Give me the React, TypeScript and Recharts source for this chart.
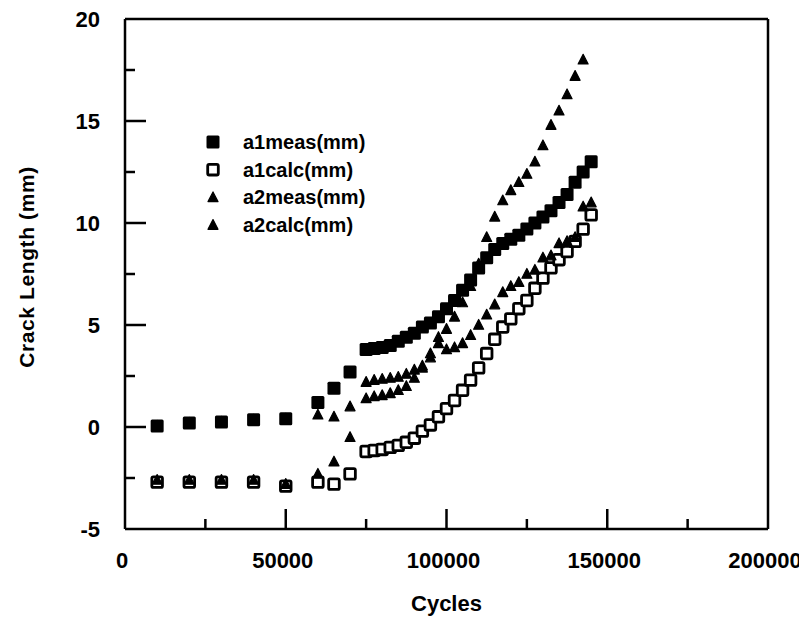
import React from 'react';
import { ScatterChart, Scatter, XAxis, YAxis, ReferenceLine, Legend } from 'recharts';

// ---- data ----
const earlyCycles = [10000, 20000, 30000, 40000, 50000, 60000, 65000, 70000];
const denseCycles = [
  75000, 77500, 80000, 82500, 85000, 87500, 90000, 92500, 95000, 97500,
  100000, 102500, 105000, 107500, 110000, 112500, 115000, 117500, 120000, 122500,
  125000, 127500, 130000, 132500, 135000, 137500, 140000, 142500, 145000,
];

const a1measValues = [
  0.05, 0.2, 0.25, 0.35, 0.4, 1.2, 1.9, 2.7,
  3.8, 3.85, 3.9, 4.0, 4.2, 4.4, 4.6, 4.9, 5.1, 5.4,
  5.8, 6.2, 6.7, 7.2, 7.8, 8.3, 8.7, 9.0, 9.2, 9.4,
  9.7, 10.0, 10.3, 10.6, 11.0, 11.4, 12.0, 12.5, 13.0,
];
const a1calcValues = [
  -2.7, -2.7, -2.7, -2.7, -2.9, -2.7, -2.8, -2.3,
  -1.2, -1.15, -1.1, -1.0, -0.9, -0.75, -0.55, -0.2, 0.1, 0.5,
  0.9, 1.3, 1.8, 2.3, 2.9, 3.6, 4.3, 4.9, 5.3, 5.8,
  6.2, 6.8, 7.3, 7.8, 8.2, 8.6, 9.1, 9.7, 10.4,
];
const a2measValues = [
  0.05, 0.2, 0.25, 0.35, 0.4, 0.6, 0.5, 1.0,
  1.4, 1.5, 1.55, 1.65, 1.8, 2.0, 2.4, 2.9, 3.4, 4.1,
  3.8, 3.9, 4.1, 4.5, 5.0, 5.5, 6.0, 6.6, 6.9, 7.1,
  7.5, 7.7, 8.3, 8.4, 9.0, 9.1, 9.3, 10.8, 11.0,
];
const a2calcValues = [
  -2.6, -2.6, -2.6, -2.6, -2.8, -2.3, -1.7, -0.5,
  2.2, 2.3, 2.35, 2.4, 2.45, 2.6, 2.8, 3.0, 3.6, 4.4,
  4.8, 5.4, 6.1, 6.9, 8.0, 9.3, 10.3, 11.1, 11.6, 12.0,
  12.4, 13.0, 13.8, 14.8, 15.5, 16.3, 17.2, 18.0,
];

const seriesNames = ['a1meas(mm)', 'a1calc(mm)', 'a2meas(mm)', 'a2calc(mm)'];

const xTicks = [0, 25000, 50000, 75000, 100000, 125000, 150000, 175000, 200000];
const xTickLabels = [0, 50000, 100000, 150000, 200000];
const yTicks = [-5, -2.5, 0, 2.5, 5, 7.5, 10, 12.5, 15, 17.5, 20];
const yTickLabels = [-5, 0, 5, 10, 15, 20];

const xTitle = 'Cycles';
const yTitle = 'Crack Length (mm)';

// ---- helpers ----
const allCycles = [...earlyCycles, ...denseCycles];
const toPoints = (values: number[]) => values.map((y, i) => ({ x: allCycles[i], y }));

const FONT = '"Liberation Sans", Arial, Helvetica, sans-serif';
const INK = '#000';

const FilledSquare = (p: any) => (
  <rect x={p.cx - 6.5} y={p.cy - 6.5} width={13} height={13} rx={1.5} fill={INK} />
);
const HollowSquare = (p: any) => (
  <rect x={p.cx - 5.3} y={p.cy - 5.3} width={10.6} height={10.6} rx={1.5} fill="#fff" stroke={INK} strokeWidth={2.8} />
);
const Triangle = (p: any) => (
  <path
    d={`M${p.cx},${p.cy - 5.5} L${p.cx + 5},${p.cy + 4.2} L${p.cx - 5},${p.cy + 4.2} Z`}
    fill={INK}
    stroke={INK}
    strokeWidth={1.2}
    strokeLinejoin="round"
  />
);

const shapes = [FilledSquare, HollowSquare, Triangle, Triangle];

const XTick = (props: any) => {
  const { x, y, payload } = props;
  const v = payload.value;
  const major = xTickLabels.includes(v);
  const edge = v === xTicks[0] || v === xTicks[xTicks.length - 1];
  return (
    <g>
      {!edge && (
        <line x1={x} x2={x} y1={y} y2={y - (major ? 20 : 10)} stroke={INK} strokeWidth={2.5} />
      )}
      {major && (
        <text x={x - 3} y={y + 39} textAnchor="middle" fontFamily={FONT} fontWeight={700} fontSize={22} fill={INK}>
          {String(v)}
        </text>
      )}
    </g>
  );
};

const YTick = (props: any) => {
  const { x, y, payload } = props;
  const v = payload.value;
  const major = yTickLabels.includes(v);
  const edge = v === yTicks[0] || v === yTicks[yTicks.length - 1];
  return (
    <g>
      {!edge && (
        <line x1={x} x2={x + (major ? 21 : 10)} y1={y} y2={y} stroke={INK} strokeWidth={2.5} />
      )}
      {major && (
        <text x={x - 25} y={y + 8} textAnchor="end" fontFamily={FONT} fontWeight={700} fontSize={22} fill={INK}>
          {String(v)}
        </text>
      )}
    </g>
  );
};

const renderYTitle = (props: any) => {
  const vb = props.viewBox || { x: 0, y: 11, width: 117, height: 510 };
  const cx = vb.x + 18;
  const cy = vb.y + vb.height / 2 - 7;
  return (
    <text
      x={cx}
      y={cy}
      transform={`rotate(-90, ${cx}, ${cy})`}
      textAnchor="middle"
      dominantBaseline="central"
      fontFamily={FONT}
      fontWeight={700}
      fontSize={21}
      letterSpacing={0.6}
      fill={INK}
    >
      {yTitle}
    </text>
  );
};

const renderXTitle = (props: any) => {
  const vb = props.viewBox || { x: 117, y: 521, width: 643, height: 90 };
  const cx = vb.x + vb.width / 2;
  return (
    <text x={cx} y={vb.y + 82} textAnchor="middle" fontFamily={FONT} fontWeight={700} fontSize={22} fill={INK}>
      {xTitle}
    </text>
  );
};

const renderLegend = () => (
  <svg width={200} height={120} style={{ display: 'block' }}>
    {seriesNames.map((name, i) => {
      const cy = 14 + i * 27.7;
      const Shape = shapes[i];
      return (
        <g key={name}>
          <Shape cx={10} cy={cy} />
          <text x={40} y={cy + 7} fontFamily={FONT} fontWeight={700} fontSize={20} fill={INK}>
            {name}
          </text>
        </g>
      );
    })}
  </svg>
);

const seriesValues = [a1measValues, a1calcValues, a2measValues, a2calcValues];

export default function App() {
  return (
    <ScatterChart
      width={799}
      height={611}
      margin={{ top: 11, right: 39, bottom: 0, left: 0 }}
      style={{ background: '#fff' }}
    >
      <XAxis
        dataKey="x"
        type="number"
        domain={[0, 200000]}
        ticks={xTicks}
        interval={0}
        tickSize={0}
        tickMargin={0}
        tickLine={false}
        axisLine={{ stroke: INK, strokeWidth: 2.5 }}
        tick={<XTick />}
        height={90}
        label={{ content: renderXTitle }}
      />
      <YAxis
        dataKey="y"
        type="number"
        domain={[-5, 20]}
        ticks={yTicks}
        interval={0}
        tickSize={0}
        tickMargin={0}
        tickLine={false}
        axisLine={{ stroke: INK, strokeWidth: 2.5 }}
        tick={<YTick />}
        width={117}
        label={{ content: renderYTitle }}
      />
      <ReferenceLine y={20} stroke={INK} strokeWidth={2.5} />
      <ReferenceLine x={200000} stroke={INK} strokeWidth={2.5} />
      <Legend
        layout="vertical"
        align="center"
        verticalAlign="middle"
        content={renderLegend}
        wrapperStyle={{ left: 195, top: 120, width: 200, height: 120 }}
      />
      {seriesNames.map((name, i) => (
        <Scatter
          key={name}
          name={name}
          data={toPoints(seriesValues[i])}
          fill={INK}
          shape={shapes[i]}
          isAnimationActive={false}
        />
      ))}
    </ScatterChart>
  );
}
